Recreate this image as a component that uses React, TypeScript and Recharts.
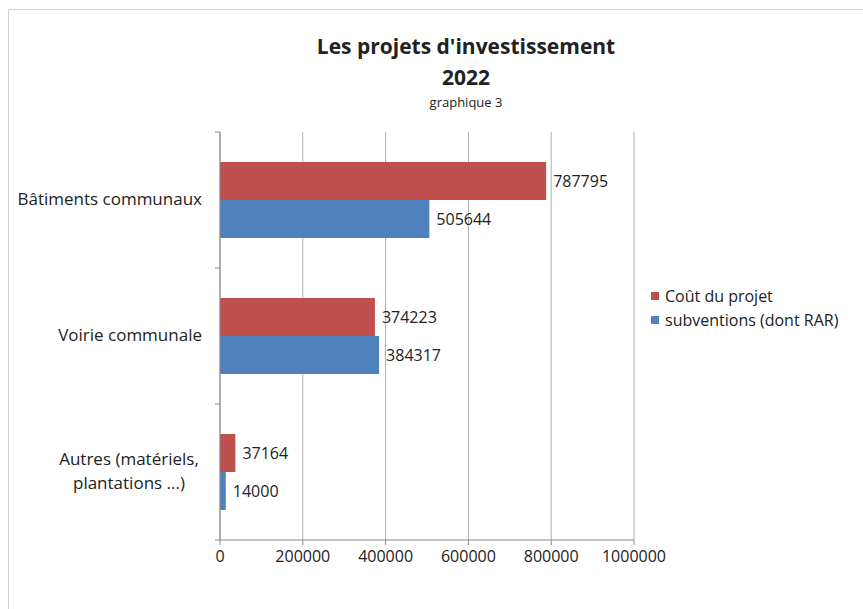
import { BarChart, Bar, XAxis, YAxis, CartesianGrid, LabelList } from "recharts"

const categories = ["Bâtiments communaux", "Voirie communale", "Autres (matériels,\nplantations ...)"]
const coutProjet = [787795, 374223, 37164]
const subventions = [505644, 384317, 14000]
const xTicks = [0, 200000, 400000, 600000, 800000, 1000000]
const seriesNames = ["Coût du projet", "subventions (dont RAR)"]

const data = categories.map((name, i) => ({ name, cout: coutProjet[i], sub: subventions[i] }))

const RED = "#C0504D"
const BLUE = "#4F81BD"
const AXIS = "#8a8a8a"
const FONT = "'Open Sans', 'DejaVu Sans', sans-serif"
const BAND = 136

function CategoryTick(props: any) {
  const { x, y, payload, index } = props
  const lines = String(payload.value).split("\n")
  const ax = x + 8
  return (
    <g>
      <line x1={ax - 5} x2={ax} y1={y - BAND / 2} y2={y - BAND / 2} stroke={AXIS} />
      {index === categories.length - 1 && (
        <line x1={ax - 5} x2={ax} y1={y + BAND / 2} y2={y + BAND / 2} stroke={AXIS} />
      )}
      {lines.length === 1 ? (
        <text x={x - 10} y={y} dy={5} textAnchor="end" fontSize={17} fill="#222" fontFamily={FONT}>
          {lines[0]}
        </text>
      ) : (
        lines.map((l, i) => (
          <text
            key={i}
            x={x - 83}
            y={y + (i - (lines.length - 1) / 2) * 24}
            dy={5}
            textAnchor="middle"
            fontSize={17}
            fill="#222"
            fontFamily={FONT}
          >
            {l}
          </text>
        ))
      )}
    </g>
  )
}

export default function App() {
  return (
    <div style={{ position: "absolute", left: 0, top: 0, width: 863, height: 609, background: "#fff" }}>
      <div style={{ position: "absolute", left: 8, top: 9, width: 855, height: 1, background: "#d4d4d4" }} />
      <div style={{ position: "absolute", left: 8, top: 9, width: 1, height: 600, background: "#d4d4d4" }} />
      <div
        style={{
          position: "absolute",
          left: 266,
          width: 400,
          top: 31,
          textAlign: "center",
          fontFamily: FONT,
          color: "#222",
        }}
      >
        <div style={{ fontSize: 21, fontWeight: "bold", lineHeight: "31px" }}>Les projets d'investissement</div>
        <div style={{ fontSize: 21, fontWeight: "bold", lineHeight: "31px" }}>2022</div>
        <div style={{ fontSize: 13, lineHeight: "18px" }}>graphique 3</div>
      </div>
      <div style={{ position: "absolute", left: 651, top: 284, fontFamily: FONT, fontSize: 16, color: "#222" }}>
        {seriesNames.map((label, i) => (
          <div key={label} style={{ display: "flex", alignItems: "center", height: 24 }}>
            <span style={{ width: 8, height: 8, background: i === 0 ? RED : BLUE, marginRight: 6 }} />
            {label}
          </div>
        ))}
      </div>
      <BarChart
        width={863}
        height={609}
        data={data}
        layout="vertical"
        margin={{ top: 132, right: 229, bottom: 39, left: 0 }}
        barCategoryGap={30}
        barGap={0}
        style={{ position: "absolute", left: 0, top: 0 }}
      >
        <CartesianGrid horizontal={false} stroke={AXIS} strokeOpacity={0.7} />
        <XAxis
          type="number"
          domain={[0, 1000000]}
          ticks={xTicks}
          interval={0}
          stroke={AXIS}
          tickSize={5}
          height={30}
          tick={{ fill: "#222", fontSize: 16, fontFamily: FONT, dy: 4 }}
        />
        <YAxis
          type="category"
          dataKey="name"
          width={220}
          stroke={AXIS}
          tickLine={false}
          tick={<CategoryTick />}
          interval={0}
        />
        <Bar dataKey="cout" name={seriesNames[0]} fill={RED} isAnimationActive={false}>
          <LabelList dataKey="cout" position="right" offset={7} fill="#222" fontSize={16} fontFamily={FONT} />
        </Bar>
        <Bar dataKey="sub" name={seriesNames[1]} fill={BLUE} isAnimationActive={false}>
          <LabelList dataKey="sub" position="right" offset={7} fill="#222" fontSize={16} fontFamily={FONT} />
        </Bar>
      </BarChart>
    </div>
  )
}
